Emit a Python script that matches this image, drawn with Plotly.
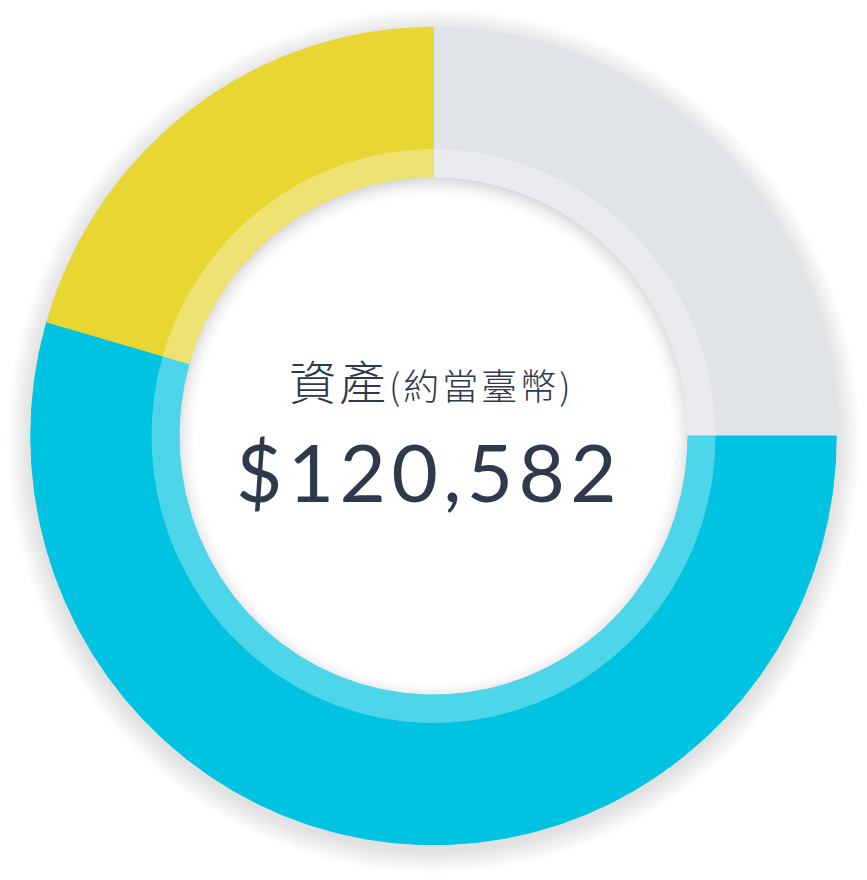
import numpy as np
import plotly.graph_objects as go

# ---- data ----
labels = ["類別一", "類別二", "類別三"]
values = [30146, 65717, 24719]
colors = ["#E0E3E7", "#00C3E1", "#E8D633"]
band_colors = ["#E9EBEE", "#4DD5EA", "#EEE272"]
title_main = "資產"
title_sub = "(約當臺幣)"
total_label = "$120,582"

# ---- geometry (pixels) ----
W, H = 867, 880
cx, cy = 433.5, 436.0
R_out = (402.7, 408.7)
R_mid = (281.5, 286.5)
R_in = (254.5, 259.0)


def arc(rx, ry, x0, y0, a0, a1):
    n = max(3, int(abs(a1 - a0) * 2) + 1)
    phi = np.radians(np.linspace(a0, a1, n))
    return x0 + rx * np.sin(phi), y0 - ry * np.cos(phi)


fig = go.Figure()

# outer soft shadow
for k in range(1, 16):
    e = 1.6 * k
    xs, ys = arc(R_out[0] + e, R_out[1] + e, cx, cy + 5, 0, 360)
    fig.add_trace(go.Scatter(x=xs, y=ys, fill="toself", mode="lines",
                             line=dict(width=0), fillcolor="rgba(0,0,0,0.007)",
                             hoverinfo="skip"))

# inner (inset) shadow of the white centre
N = 16
for k in range(N + 1):
    inten = 0.17 * (1 - k / N) ** 1.6
    r = int(round(255 - 255 * inten))
    b = int(round(255 - 255 * inten * 0.9))
    col = f"rgb({r},{r},{b})"
    xs, ys = arc(R_in[0] + 6 - 1.4 * k, R_in[1] + 6 - 1.4 * k, cx, cy + 4, 0, 360)
    fig.add_trace(go.Scatter(x=xs, y=ys, fill="toself", mode="lines",
                             line=dict(width=0), fillcolor=col, hoverinfo="skip"))

# ring segments
total = float(sum(values))
cum = np.concatenate([[0.0], np.cumsum(values) / total]) * 360.0


def ring(r_o, r_i, a0, a1, color, name):
    xo, yo = arc(r_o[0], r_o[1], cx, cy, a0, a1)
    xi, yi = arc(r_i[0], r_i[1], cx, cy, a1, a0)
    xs = np.concatenate([xo, xi, xo[:1]])
    ys = np.concatenate([yo, yi, yo[:1]])
    return go.Scatter(x=xs, y=ys, fill="toself", mode="lines",
                      line=dict(width=1, color=color), fillcolor=color,
                      name=name, hoverinfo="name")


for i, lab in enumerate(labels):
    fig.add_trace(ring(R_out, R_mid, cum[i], cum[i + 1], colors[i], lab))
for i, lab in enumerate(labels):
    fig.add_trace(ring(R_mid, R_in, cum[i], cum[i + 1], band_colors[i], lab))

text_color = "#2E394B"
fig.add_annotation(
    x=431, y=379, xref="x", yref="y", showarrow=False,
    text=(f"<span style='letter-spacing:3px'>{title_main}</span>"
          f"<span style='font-size:36px;letter-spacing:3px'>{title_sub}</span>"),
    font=dict(family="Noto Sans CJK TC", size=47, color=text_color, weight=300),
    xanchor="center", yanchor="middle")
fig.add_annotation(
    x=429, y=471, xref="x", yref="y", showarrow=False,
    text=f"<span style='letter-spacing:5.4px'>{total_label}</span>",
    font=dict(family="Lato", size=80, color=text_color),
    xanchor="center", yanchor="middle")

fig.update_layout(
    width=W, height=H, margin=dict(l=0, r=0, t=0, b=0),
    paper_bgcolor="white", plot_bgcolor="white", showlegend=False,
    xaxis=dict(range=[0, W], visible=False, fixedrange=True),
    yaxis=dict(range=[H, 0], visible=False, fixedrange=True),
)

fig.write_html("out.html")
